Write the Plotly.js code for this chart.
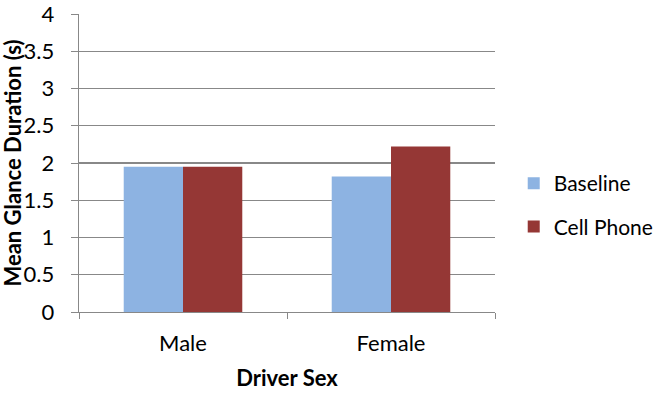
<!DOCTYPE html>
<html>
<head>
<meta charset="utf-8">
<script src="https://cdn.plot.ly/plotly-3.0.1.min.js"></script>
<style>html,body{margin:0;padding:0;background:#fff}#chart{width:654px;height:406px}</style>
</head>
<body>
<div id="chart"></div>
<script>
const categories = ["Male", "Female"];
const baseline = [1.95, 1.82];
const cellPhone = [1.95, 2.22];
const seriesNames = ["Baseline", "Cell Phone"];
const yTickVals = [0, 0.5, 1, 1.5, 2, 2.5, 3, 3.5, 4];
const yTickText = ["0", "0.5", "1", "1.5", "2", "2.5", "3", "3.5", "4"];
const yTitle = "Mean Glance Duration (s)";
const xTitle = "Driver Sex";

const FONT = "Lato, 'Open Sans', sans-serif";
const data = [
  {type: "bar", x: categories, y: baseline, name: seriesNames[0], legendgroup: "a",
   marker: {color: "#8DB3E2"}},
  {type: "bar", x: categories, y: cellPhone, name: seriesNames[1], legendgroup: "b",
   marker: {color: "#953735"}}
];
const layout = {
  width: 654, height: 406,
  margin: {l: 79, r: 159, t: 14, b: 94, autoexpand: false},
  paper_bgcolor: "#fff", plot_bgcolor: "#fff",
  font: {family: FONT, size: 21, color: "#000"},
  barmode: "group", bargap: 0.43, bargroupgap: 0,
  showlegend: true,
  legend: {x: 1.045, y: 0.5, xanchor: "left", yanchor: "top",
           font: {family: FONT, size: 21, color: "#000"},
           traceorder: "grouped", tracegroupgap: 13, itemwidth: 30},
  xaxis: {
    type: "category", tickson: "boundaries", ticks: "outside", ticklen: 6,
    tickcolor: "#888", showline: true, linecolor: "#888", linewidth: 1.3,
    showgrid: false, zeroline: false,
    tickfont: {family: FONT, size: 22, color: "#000"},
    ticklabelstandoff: 11,
    title: {text: "<b>" + xTitle + "</b>", standoff: 16, font: {family: FONT, size: 22, color: "#000"}},
    automargin: false
  },
  yaxis: {
    range: [0, 4], tickvals: yTickVals, ticktext: yTickText,
    ticks: "outside", ticklen: 7, tickcolor: "#888",
    showline: true, linecolor: "#888", linewidth: 1.3,
    showgrid: true, gridcolor: "#888", gridwidth: 1.3, zeroline: false,
    tickfont: {family: FONT, size: 22, color: "#000"},
    ticklabelstandoff: 12, ticklabeloverflow: "allow",
    automargin: false
  },
  annotations: [{
    text: "<b>" + yTitle + "</b>", textangle: -90, showarrow: false,
    xref: "paper", yref: "paper", x: -79/416, y: 0.5, xanchor: "left", yanchor: "middle",
    xshift: -4,
    font: {family: FONT, size: 22, color: "#000"}
  }]
};
Plotly.newPlot("chart", data, layout, {displayModeBar: false, staticPlot: true});
</script>
</body>
</html>
